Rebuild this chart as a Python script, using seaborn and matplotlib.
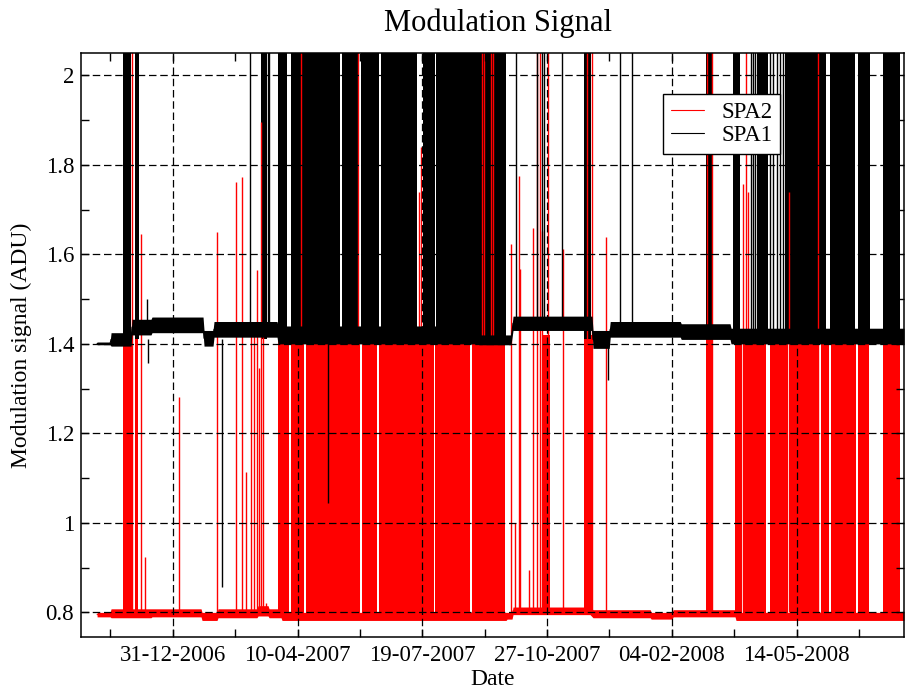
import numpy as np
import pandas as pd
import matplotlib
matplotlib.use("Agg")
import matplotlib.pyplot as plt
import matplotlib.dates as mdates
from matplotlib.ticker import MultipleLocator, FuncFormatter, FixedLocator
import seaborn as sns

# Days are counted from this reference date
EPOCH = pd.Timestamp("2006-12-31")

# ---- Quiet-level envelope of each channel: (first day, last day, low, high) ----
spa1_seg_start = [-60.6, -49.4, -32.6, -16.6, 25.1, 33.1, 84.4, 245.4, 272.7, 336.8, 350.6, 407.5, 447.4]
spa1_seg_end = [-50.2, -33.4, -17.4, 24.3, 32.3, 83.6, 244.7, 271.1, 336.0, 349.8, 406.7, 446.6, 586.0]
spa1_seg_low = [1.398, 1.395, 1.420, 1.425, 1.395, 1.415, 1.400, 1.398, 1.430, 1.390, 1.415, 1.410, 1.400]
spa1_seg_high = [1.404, 1.425, 1.455, 1.460, 1.430, 1.450, 1.440, 1.420, 1.462, 1.430, 1.450, 1.445, 1.435]

spa2_seg_start = [-60.6, -49.4, -16.6, 23.5, 36.3, 68.4, 77.2, 87.6, 268.0, 272.7, 336.8, 383.4, 401.0, 451.4]
spa2_seg_end = [-50.2, -17.4, 22.7, 35.5, 67.5, 76.4, 86.8, 267.1, 271.9, 334.4, 382.6, 400.2, 450.6, 586.0]
spa2_seg_low = [0.790, 0.788, 0.790, 0.782, 0.788, 0.792, 0.788, 0.782, 0.785, 0.795, 0.788, 0.785, 0.790, 0.782]
spa2_seg_high = [0.800, 0.808, 0.808, 0.800, 0.808, 0.815, 0.808, 0.800, 0.800, 0.812, 0.806, 0.800, 0.806, 0.800]

# ---- Periods of rapid switching (dense bursts) ----
spa1_burst_start = [-39.8, -30.2, 70.8, 84.4, 94.8, 135.7, 150.9, 166.9, 200.6, 211.0,
                    329.6, 427.3, 449.0, 468.2, 490.6, 526.7, 549.1, 569.2]
spa1_burst_end = [-33.4, -27.0, 75.6, 91.6, 134.1, 148.5, 165.3, 195.8, 210.2, 267.1,
                  335.2, 433.0, 454.6, 477.0, 523.5, 546.7, 558.7, 582.8]
spa1_burst_low, spa1_burst_high = 1.41, 2.20

spa2_burst_start = [-40.1, -30.2, 84.1, 94.8, 106.8, 151.7, 165.3, 198.2, 210.2, 239.8, 296.7,
                    329.6, 427.3, 450.6, 457.0, 478.6, 494.6, 519.5, 527.5, 549.1, 569.2]
spa2_burst_end = [-32.1, -27.6, 93.4, 105.2, 150.1, 163.7, 197.0, 209.0, 238.2, 266.3, 302.4,
                  335.7, 431.9, 455.9, 475.4, 493.0, 517.9, 525.9, 547.5, 558.0, 582.8]
spa2_burst_low, spa2_burst_high = 0.795, 1.42

# ---- Isolated excursions ----
spa1_spike_day = [-20.6, 62.2, 76.1, 76.9, 275.1, 291.7, 295.7, 297.8, 311.9, 358.4, 367.8,
                  463.0, 465.0, 467.0, 478.6, 481.0, 484.2, 486.6, 489.0]
spa1_spike_peak = [1.50, 2.2, 2.2, 2.2, 2.2, 2.2, 2.2, 2.2, 2.2, 2.2, 2.2,
                   2.2, 2.2, 2.2, 2.2, 2.2, 2.2, 2.2, 2.2]
spa1_dip_day = [-20.0, 39.3, 124.2, 349.0]
spa1_dip_min = [1.358, 0.857, 1.044, 1.320]

spa2_spike_day = [-32.9, -25.4, -21.9, 5.3, 35.5, 51.0, 55.5, 58.7, 62.7, 65.4, 67.5, 69.2,
                  70.8, 72.4, 74.8, 102.8, 148.7, 197.4, 199.0, 247.8, 249.4, 255.0, 256.6,
                  270.8, 274.3, 277.5, 278.3, 285.5, 288.9, 291.7, 294.3, 295.7, 301.0,
                  313.0, 331.7, 335.7, 347.0, 427.9, 431.9, 457.2, 459.4, 461.2, 494.1, 517.3]
spa2_spike_peak = [2.2, 1.645, 0.923, 1.282, 1.651, 1.761, 1.772, 1.114, 1.42, 1.42, 1.566, 1.347,
                   1.895, 1.42, 0.82, 2.2, 2.2, 1.74, 1.84, 2.2, 2.2, 2.2, 2.2,
                   1.623, 1.00, 1.776, 1.567, 0.895, 1.660, 2.2, 2.2, 1.653, 2.2,
                   1.612, 2.2, 2.2, 1.638, 2.2, 2.2, 1.757, 2.2, 1.74, 1.739, 2.2]

colors = {"SPA2": "#ff0000", "SPA1": "#000000"}


def to_date(days):
    return EPOCH + pd.to_timedelta(np.asarray(days, dtype=float), unit="D")


def envelope_frame(start, end, low, high):
    rows = []
    for s, e, lo, hi in zip(start, end, low, high):
        for d in (s, e):
            rows.append((d, lo))
            rows.append((d, hi))
    df = pd.DataFrame(rows, columns=["day", "adu"])
    df["date"] = to_date(df["day"])
    return df


sns.set_style("ticks")
plt.rcParams["font.family"] = ["Liberation Serif", "DejaVu Serif"]
plt.rcParams.update({
    "axes.linewidth": 1.1,
    "text.color": "black",
    "axes.labelcolor": "black",
    "xtick.color": "black",
    "ytick.color": "black",
    "axes.edgecolor": "black",
})

fig = plt.figure(figsize=(9.05, 6.9), dpi=100)
ax = fig.add_axes([81 / 905, 53 / 690, 823 / 905, 584 / 690])


def add_quiet_level(df, name, z):
    n_lines, n_coll = len(ax.lines), len(ax.collections)
    sns.lineplot(data=df, x="date", y="adu", estimator="mean",
                 errorbar=lambda v: (v.min(), v.max()),
                 color=colors[name], linewidth=0.8, label=name,
                 err_kws={"alpha": 1.0, "linewidth": 0}, ax=ax)
    for ln in ax.lines[n_lines:]:
        ln.set_zorder(z + 0.05)
    for c in ax.collections[n_coll:]:
        c.set_zorder(z)


# SPA2 bursts and quiet level
for s, e in zip(spa2_burst_start, spa2_burst_end):
    ax.fill_between(to_date([s, e]), spa2_burst_low, spa2_burst_high,
                    color=colors["SPA2"], linewidth=0, zorder=1.5)
add_quiet_level(envelope_frame(spa2_seg_start, spa2_seg_end, spa2_seg_low, spa2_seg_high),
                "SPA2", 1.6)

# SPA1 bursts
for s, e in zip(spa1_burst_start, spa1_burst_end):
    ax.fill_between(to_date([s, e]), spa1_burst_low, spa1_burst_high,
                    color=colors["SPA1"], linewidth=0, zorder=2.0)

# SPA2 isolated spikes
ax.vlines(to_date(spa2_spike_day), 0.80, spa2_spike_peak,
          colors=colors["SPA2"], linewidth=1.0, zorder=2.2)

# SPA1 quiet level, spikes and dips
add_quiet_level(envelope_frame(spa1_seg_start, spa1_seg_end, spa1_seg_low, spa1_seg_high),
                "SPA1", 3.0)
ax.vlines(to_date(spa1_spike_day), 1.43, spa1_spike_peak,
          colors=colors["SPA1"], linewidth=1.0, zorder=3.2)
ax.vlines(to_date(spa1_dip_day), 1.41, spa1_dip_min,
          colors=colors["SPA1"], linewidth=1.0, zorder=3.2)

# Axes ranges and ticks
ax.set_xlim(to_date([-73.5])[0], to_date([586.0])[0])
ax.set_ylim(0.745, 2.05)

major_dates = pd.date_range("2006-12-31", periods=6, freq="100D")
minor_dates = pd.date_range("2006-11-11", periods=14, freq="50D")
ax.xaxis.set_major_locator(FixedLocator(mdates.date2num(major_dates)))
ax.xaxis.set_minor_locator(FixedLocator(mdates.date2num(minor_dates)))
ax.xaxis.set_major_formatter(mdates.DateFormatter("%d-%m-%Y"))
ax.yaxis.set_major_locator(MultipleLocator(0.2))
ax.yaxis.set_minor_locator(MultipleLocator(0.1))
ax.yaxis.set_major_formatter(FuncFormatter(lambda v, p: f"{v:g}"))

ax.tick_params(which="both", direction="in", top=True, right=True,
               length=6, width=1.0, color="black", labelcolor="black", labelsize=16.5)
ax.tick_params(axis="x", which="major", pad=6)
ax.tick_params(axis="y", which="major", pad=5)

ax.grid(True, which="major", color="black", linestyle=(0, (6, 3)), linewidth=0.9)
ax.set_axisbelow(False)
ax.xaxis.set_zorder(4)
ax.yaxis.set_zorder(4)
for sp in ax.spines.values():
    sp.set_visible(True)
    sp.set_color("black")
    sp.set_zorder(6)

ax.set_title("Modulation Signal", fontsize=22, pad=16, x=0.507, color="black")
ax.set_xlabel("Date", fontsize=17, labelpad=2, color="black")
ax.set_ylabel("Modulation signal (ADU)", fontsize=17, labelpad=10, color="black")

handles, names = ax.get_legend_handles_labels()
leg = ax.legend(handles, names, loc="upper left", bbox_to_anchor=(0.707, 0.930),
                fontsize=16.5, frameon=True, fancybox=False, edgecolor="black",
                framealpha=1.0, borderaxespad=0, handlelength=1.45,
                handletextpad=0.75, labelspacing=0.1, borderpad=0.35)
leg.get_frame().set_linewidth(1.0)
leg.set_zorder(7)
for t in leg.get_texts():
    t.set_color("black")

fig.savefig("out.png", dpi=100)
